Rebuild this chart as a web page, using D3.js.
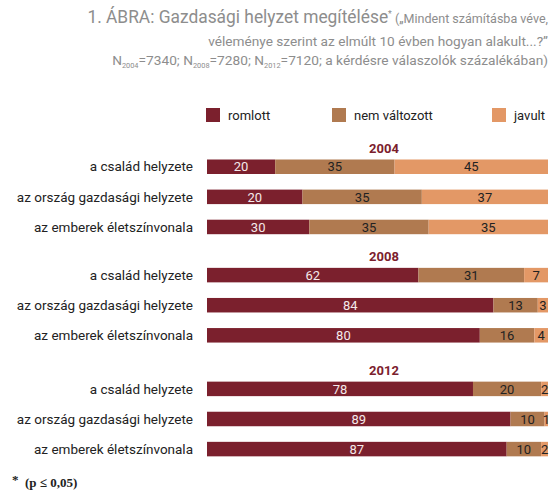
<!DOCTYPE html>
<html><head><meta charset="utf-8">
<script src="https://cdn.jsdelivr.net/npm/d3@7"></script>
<style>
html,body{margin:0;padding:0;background:#fff;}
svg{display:block;font-family:Roboto, "Open Sans", sans-serif;}
</style></head>
<body><svg id="chart" width="560" height="496"></svg>
<script>
// ---- data ----
const years = ["2004", "2008", "2012"];
const categories = ["a család helyzete", "az ország gazdasági helyzete", "az emberek életszínvonala"];
const seriesNames = ["romlott", "nem változott", "javult"];
const colors = ["#7b202d", "#b07a50", "#e39866"];
// values as drawn (per year, per category)
const romlott      = [20, 28, 30,   62, 84, 80,   78, 89, 87];
const nemValtozott = [35, 35, 35,   31, 13, 16,   20, 10, 10];
const javult       = [45, 37, 35,    7,  3,  4,    2,  1,  2];
// printed labels (the picture prints "20" on the second 2004 bar)
const romlottLabels      = ["20","20","30","62","84","80","78","89","87"];
const nemValtozottLabels = ["35","35","35","31","13","16","20","10","10"];
const javultLabels       = ["45","37","35","7","3","4","2","1","2"];

const svg = d3.select("#chart");

// ---- title ----
const titleColor = "#8d8d8d";
function fitText(sel, x, y, target) {
  const w = sel.node().getComputedTextLength();
  sel.attr("transform", `translate(${x},${y}) scale(${target / w},1)`);
}
const t1 = svg.append("text").attr("text-anchor", "end").attr("fill", titleColor);
t1.append("tspan").attr("font-size", 18).text("1. ÁBRA: Gazdasági helyzet megítélése");
t1.append("tspan").attr("font-size", 9).attr("dy", -6).text("*");
t1.append("tspan").attr("font-size", 13).attr("dy", 6).text(" („Mindent számításba véve,");
fitText(t1, 548, 22.5, 461);

const t2 = svg.append("text").attr("text-anchor", "end").attr("fill", titleColor)
  .attr("font-size", 13).text("véleménye szerint az elmúlt 10 évben hogyan alakult...?\u201D");
fitText(t2, 548, 45.5, 340);

const t3 = svg.append("text").attr("text-anchor", "end").attr("fill", titleColor).attr("font-size", 13);
[["N", "2004", "=7340; "], ["N", "2008", "=7280; "], ["N", "2012", "=7120; a kérdésre válaszolók százalékában)"]]
  .forEach(([a, sub, b]) => {
    t3.append("tspan").attr("font-size", 13).text(a);
    t3.append("tspan").attr("font-size", 7).attr("dy", 3).text(sub);
    t3.append("tspan").attr("font-size", 13).attr("dy", -3).text(b);
  });
fitText(t3, 548, 64.5, 436);

// ---- scales ----
const x = d3.scaleLinear().domain([0, 100]).range([207, 548]);
const groupStart = [0, 3.6, 7.38];
const ySlot = d3.scaleLinear().domain([0, 1]).range([159.5, 189.6]);
const barH = 14.5;
const color = d3.scaleOrdinal().domain(seriesNames).range(colors);

// ---- legend ----
const legendX = [206, 332, 492];
seriesNames.forEach((s, i) => {
  const g = svg.append("g").attr("transform", `translate(${legendX[i]},108)`);
  g.append("rect").attr("width", 14).attr("height", 14).attr("fill", color(s));
  g.append("text").attr("x", 22).attr("y", 11.5).attr("font-size", 13).attr("fill", "#222").text(s);
});

// ---- rows ----
const rows = [];
years.forEach((yr, g) => {
  categories.forEach((cat, r) => {
    const i = g * 3 + r;
    const vals = [romlott[i], nemValtozott[i], javult[i]];
    const labs = [romlottLabels[i], nemValtozottLabels[i], javultLabels[i]];
    const total = d3.sum(vals);
    let acc = 0;
    const segs = vals.map((v, k) => {
      const s = { series: seriesNames[k], x0: acc / total * 100, x1: (acc + v) / total * 100, label: labs[k], k };
      acc += v;
      return s;
    });
    rows.push({ year: yr, g, r, cat, slot: groupStart[g] + r, segs });
  });
});

// year headers
years.forEach((yr, g) => {
  svg.append("text").attr("x", 384).attr("y", ySlot(groupStart[g]) - 7)
    .attr("text-anchor", "middle").attr("font-size", 13).attr("font-weight", "bold")
    .attr("fill", "#7b202d").text(yr);
});

const rowG = svg.selectAll("g.row").data(rows).join("g").attr("class", "row")
  .attr("transform", d => `translate(0,${ySlot(d.slot)})`);

rowG.append("text").attr("x", 193).attr("y", barH / 2).attr("dy", "0.35em")
  .attr("text-anchor", "end").attr("font-size", 13.5).attr("fill", "#222").text(d => d.cat);

rowG.selectAll("rect").data(d => d.segs).join("rect")
  .attr("x", s => x(s.x0)).attr("width", s => x(s.x1) - x(s.x0))
  .attr("y", 0).attr("height", barH).attr("fill", s => color(s.series));

rowG.selectAll("text.val").data(d => d.segs).join("text").attr("class", "val")
  .attr("x", s => (x(s.x0) + x(s.x1)) / 2).attr("y", barH / 2).attr("dy", "0.36em")
  .attr("text-anchor", "middle").attr("font-size", 13)
  .attr("fill", s => s.k === 0 ? "#f4e9ea" : "#222").text(s => s.label);

// ---- footnote ----
const fn = svg.append("text").attr("x", 12).attr("y", 487)
  .attr("font-family", "'Liberation Serif', 'DejaVu Serif', serif").attr("font-weight", "bold")
  .attr("font-size", 13).attr("fill", "#222");
fn.append("tspan").attr("dy", -3).text("*");
fn.append("tspan").attr("dy", 3).attr("x", 25).text("(p ≤ 0,05)");
</script></body></html>
